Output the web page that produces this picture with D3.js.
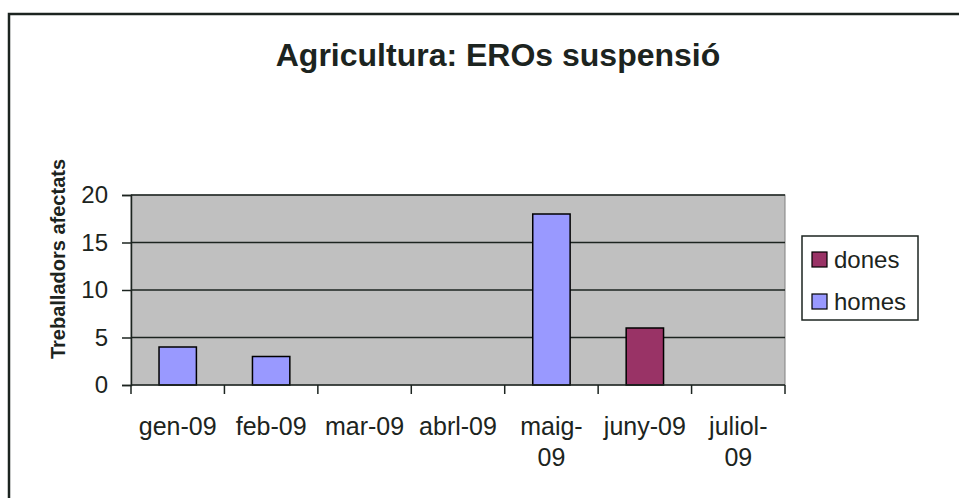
<!DOCTYPE html>
<html>
<head>
<meta charset="utf-8">
<script src="https://cdn.jsdelivr.net/npm/d3@7"></script>
<style>
  body { margin: 0; background: #fff; }
  svg { display: block; font-family: Arial, "Liberation Sans", sans-serif; }
</style>
</head>
<body>
<script>
// Chart data
const months = ["gen-09", "feb-09", "mar-09", "abrl-09", "maig-09", "juny-09", "juliol-09"];
const homes = [4, 3, 0, 0, 18, 0, 0];
const dones = [0, 0, 0, 0, 0, 6, 0];
const yTicks = [0, 5, 10, 15, 20];
const seriesNames = ["homes", "dones"];
const seriesColors = { homes: "#9999FF", dones: "#993366" };
const legendOrder = ["dones", "homes"];

const W = 959, H = 498;
const margin = { top: 195, right: 174, bottom: 113, left: 131 };
const width = W - margin.left - margin.right;
const height = H - margin.top - margin.bottom;

const svg = d3.select("body").append("svg")
  .attr("width", W)
  .attr("height", H);

// outer chart border (runs past the right/bottom edge)
svg.append("rect")
  .attr("x", 9).attr("y", 14)
  .attr("width", W + 20).attr("height", H + 20)
  .attr("fill", "#fff")
  .attr("stroke", "#1c2420")
  .attr("stroke-width", 2.5);

// title
svg.append("text")
  .attr("x", 498).attr("y", 66)
  .attr("text-anchor", "middle")
  .style("font-size", "32px")
  .style("font-weight", "bold")
  .attr("fill", "#1c2420")
  .text("Agricultura: EROs suspensió");

const g = svg.append("g")
  .attr("transform", `translate(${margin.left},${margin.top})`);

const x = d3.scaleBand().domain(months).range([0, width]).paddingInner(0.6).paddingOuter(0.3);
const xCat = d3.scaleBand().domain(months).range([0, width]);
const y = d3.scaleLinear().domain([0, 20]).range([height, 0]);

// plot area
g.append("rect")
  .attr("width", width).attr("height", height)
  .attr("fill", "#C0C0C0")
  .attr("stroke", "#808080")
  .attr("stroke-width", 1);

// gridlines
g.selectAll(".grid")
  .data(yTicks.filter(d => d > 0))
  .enter().append("line")
  .attr("class", "grid")
  .attr("x1", 0).attr("x2", width)
  .attr("y1", d => y(d)).attr("y2", d => y(d))
  .attr("stroke", "#1c2420")
  .attr("stroke-width", 1.5);

// stacked bars
const stackData = months.map((m, i) => ({ month: m, homes: homes[i], dones: dones[i] }));
const stacked = d3.stack().keys(seriesNames)(stackData);

g.selectAll(".series")
  .data(stacked)
  .enter().append("g")
  .attr("class", "series")
  .attr("fill", d => seriesColors[d.key])
  .selectAll("rect")
  .data(d => d.filter(p => p[1] - p[0] > 0))
  .enter().append("rect")
  .attr("x", d => x(d.data.month))
  .attr("y", d => y(d[1]))
  .attr("width", x.bandwidth())
  .attr("height", d => y(d[0]) - y(d[1]))
  .attr("stroke", "#000")
  .attr("stroke-width", 1.5);

// y axis
const yAxis = g.append("g")
  .call(d3.axisLeft(y).tickValues(yTicks).tickSize(9).tickPadding(14));
yAxis.select(".domain").attr("stroke", "#1c2420").attr("stroke-width", 1.5);
yAxis.selectAll(".tick line").attr("stroke", "#1c2420").attr("stroke-width", 1.5);
yAxis.selectAll(".tick text")
  .style("font-size", "24px")
  .attr("fill", "#1c2420");

// x axis
const xTickPos = d3.range(months.length + 1).map(i => i * xCat.step());
const xAxis = g.append("g").attr("transform", `translate(0,${height})`);
xAxis.append("line")
  .attr("x1", 0).attr("x2", width)
  .attr("stroke", "#1c2420").attr("stroke-width", 1.5);
xAxis.selectAll(".xtick")
  .data(xTickPos)
  .enter().append("line")
  .attr("x1", d => d).attr("x2", d => d)
  .attr("y1", 0).attr("y2", 9)
  .attr("stroke", "#1c2420").attr("stroke-width", 1.5);

const wrap = m => (m === "maig-09" || m === "juliol-09") ? [m.slice(0, m.indexOf("-") + 1), "09"] : [m];
const xLabels = xAxis.selectAll(".xlabel")
  .data(months)
  .enter().append("text")
  .attr("class", "xlabel")
  .attr("text-anchor", "middle")
  .attr("fill", "#1c2420")
  .style("font-size", "25px")
  .attr("transform", d => `translate(${xCat(d) + xCat.bandwidth() / 2},50)`);
xLabels.selectAll("tspan")
  .data(d => wrap(d))
  .enter().append("tspan")
  .attr("x", 0)
  .attr("dy", (d, i) => i === 0 ? 0 : 31)
  .text(d => d);

// y axis title
svg.append("text")
  .attr("transform", "translate(65,259) rotate(-90)")
  .attr("text-anchor", "middle")
  .style("font-size", "20px")
  .style("font-weight", "bold")
  .attr("fill", "#1c2420")
  .text("Treballadors afectats");

// legend
const legend = svg.append("g").attr("transform", "translate(802,236)");
legend.append("rect")
  .attr("width", 116).attr("height", 84)
  .attr("fill", "#fff")
  .attr("stroke", "#1c2420")
  .attr("stroke-width", 1.5);
const items = legend.selectAll(".item")
  .data(legendOrder)
  .enter().append("g")
  .attr("transform", (d, i) => `translate(10,${23 + i * 42})`);
items.append("rect")
  .attr("x", 0).attr("y", -7)
  .attr("width", 15).attr("height", 15)
  .attr("fill", d => seriesColors[d])
  .attr("stroke", "#000")
  .attr("stroke-width", 1.2);
items.append("text")
  .attr("x", 22).attr("y", 9)
  .style("font-size", "24px")
  .attr("fill", "#1c2420")
  .text(d => d);
</script>
</body>
</html>
